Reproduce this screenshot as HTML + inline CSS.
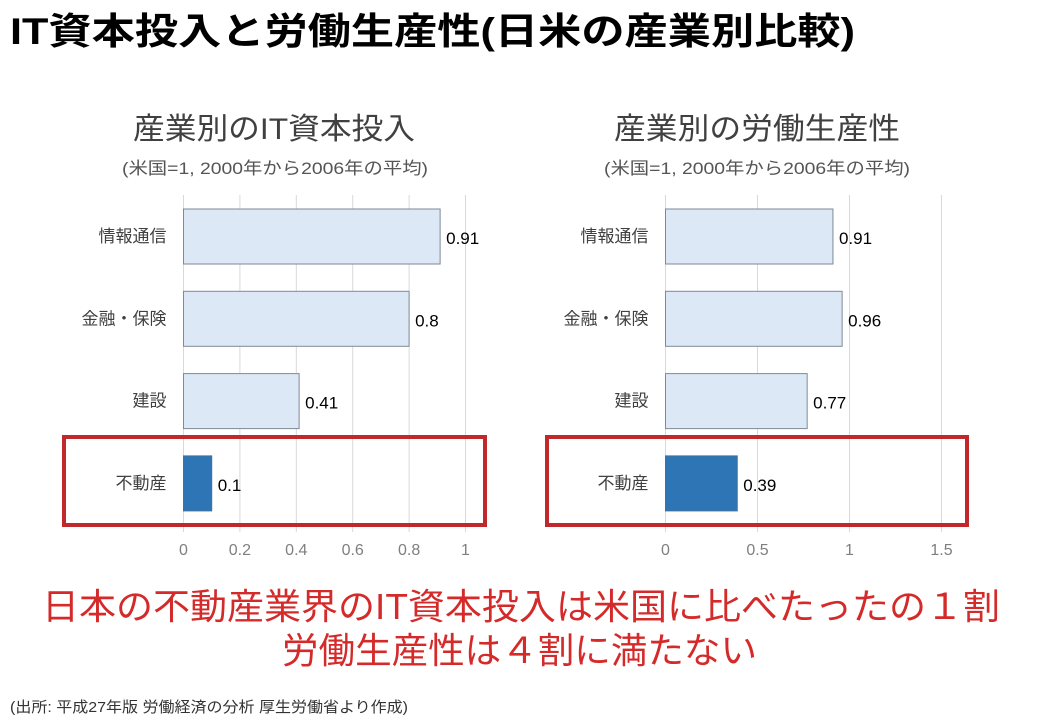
<!DOCTYPE html>
<html><head><meta charset="utf-8">
<style>
body{margin:0;background:#fff;width:1040px;height:720px;overflow:hidden;font-family:"Liberation Sans","Noto Sans CJK JP",sans-serif;}
svg text{font-family:"Liberation Sans","Noto Sans CJK JP",sans-serif;}
</style></head>
<body>
<svg id="s" width="1040" height="720" xmlns="http://www.w3.org/2000/svg">
<text x="10" y="44" font-size="37" font-weight="bold" fill="#000" textLength="845" lengthAdjust="spacingAndGlyphs">IT資本投入と労働生産性(日米の産業別比較)</text>
<text x="133" y="139" font-size="30" fill="#404040" textLength="282" lengthAdjust="spacingAndGlyphs">産業別のIT資本投入</text>
<text x="122" y="174" font-size="17" fill="#555" textLength="306" lengthAdjust="spacingAndGlyphs">(米国=1, 2000年から2006年の平均)</text>
<text x="614" y="139" font-size="30" fill="#404040" textLength="286" lengthAdjust="spacingAndGlyphs">産業別の労働生産性</text>
<text x="604" y="174" font-size="17" fill="#555" textLength="306" lengthAdjust="spacingAndGlyphs">(米国=1, 2000年から2006年の平均)</text>
<g id="left"></g>
<g id="right"></g>
<rect x="64" y="437" width="421" height="88" fill="none" stroke="#c0282c" stroke-width="4"/>
<rect x="547" y="437" width="420" height="88" fill="none" stroke="#c0282c" stroke-width="4"/>
<text x="42" y="619" font-size="36" fill="#d42a2a" textLength="958" lengthAdjust="spacingAndGlyphs">日本の不動産業界のIT資本投入は米国に比べたったの１割</text>
<text x="282" y="663" font-size="36" fill="#d42a2a" textLength="475" lengthAdjust="spacingAndGlyphs">労働生産性は４割に満たない</text>
<text x="10" y="712" font-size="15" fill="#333" textLength="398" lengthAdjust="spacingAndGlyphs">(出所: 平成27年版 労働経済の分析 厚生労働省より作成)</text>
</svg>
<script>
const categories=["情報通信","金融・保険","建設","不動産"];
const itValues=[0.91,0.8,0.41,0.1];
const itLabels=["0.91","0.8","0.41","0.1"];
const itTicks=[0,0.2,0.4,0.6,0.8,1];
const prodValues=[0.91,0.96,0.77,0.39];
const prodLabels=["0.91","0.96","0.77","0.39"];
const prodTicks=[0,0.5,1,1.5];
const NS="http://www.w3.org/2000/svg";
function mk(t,a){const e=document.createElementNS(NS,t);for(const k in a)e.setAttribute(k,a[k]);return e;}
function draw(g,x0,pxPerUnit,vals,labs,ticks){
  const xs=v=>x0+v*pxPerUnit;
  const ys=i=>209+i*82.3;
  ticks.forEach(t=>{
    const l=mk("line",{x1:xs(t),x2:xs(t),y1:195,y2:532,stroke:"#d9d9d9","stroke-width":1});
    
    
    g.appendChild(l);
    const tx=mk("text",{x:xs(t),y:555,"font-size":16,"text-anchor":"middle",fill:"#7f7f7f"});
    tx.textContent=String(t);
    
    
    g.appendChild(tx);
  });
  categories.forEach((c,i)=>{
    const hl=i===3;
    const r=mk("rect",{x:xs(0),y:ys(i),width:xs(vals[i])-xs(0),height:55,fill:hl?"#2e75b6":"#dce8f5",stroke:hl?"#41719c":"#7f8a96","stroke-width":1});
    
    
    g.appendChild(r);
    const cl=mk("text",{x:x0-17,y:ys(i)+33,"font-size":17,"text-anchor":"end",fill:"#404040"});
    cl.textContent=c;
    
    
    g.appendChild(cl);
    const vl=mk("text",{x:xs(vals[i])+6,y:ys(i)+35,"font-size":17,fill:"#000"});
    vl.textContent=labs[i];
    
    
    g.appendChild(vl);
  });
}
draw(document.getElementById("left"),183.5,282,itValues,itLabels,itTicks);
draw(document.getElementById("right"),665.5,184,prodValues,prodLabels,prodTicks);
</script>
</body></html>
